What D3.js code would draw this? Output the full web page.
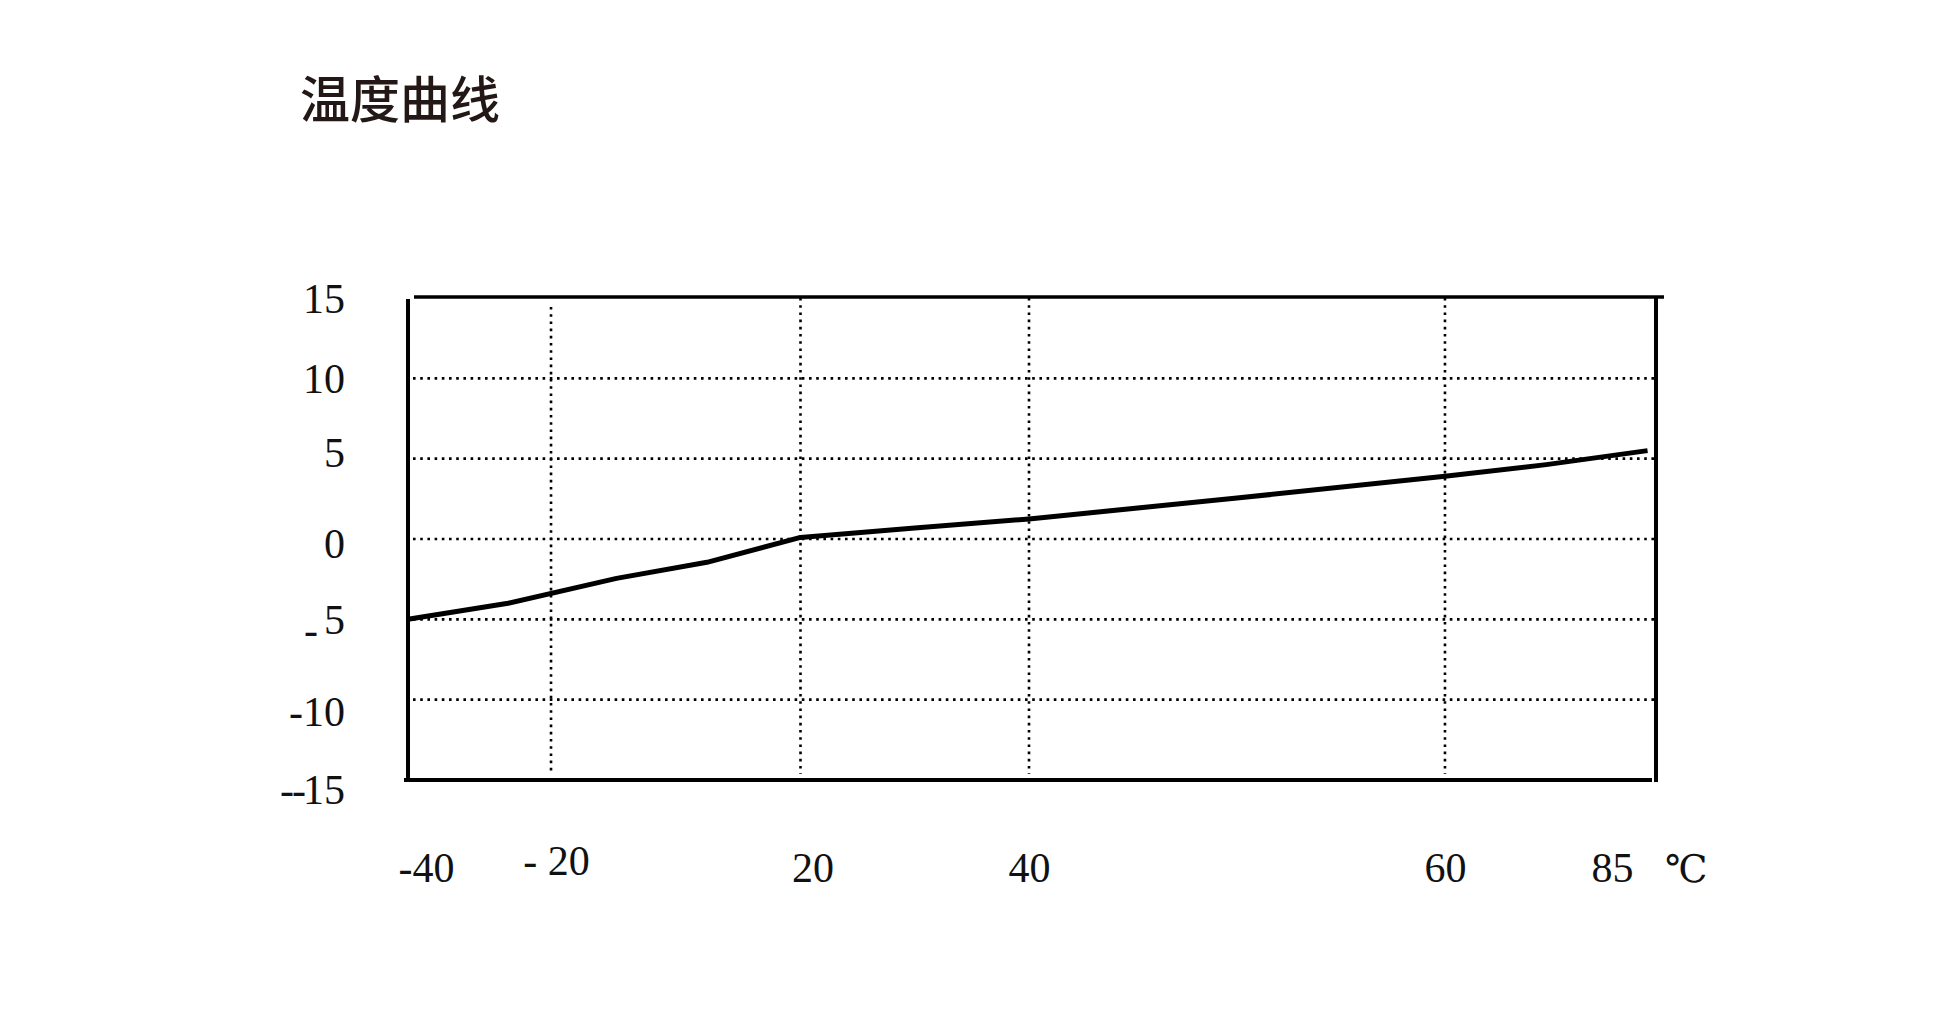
<!DOCTYPE html>
<html>
<head>
<meta charset="utf-8">
<script src="https://cdn.jsdelivr.net/npm/d3@7"></script>
<style>
  html, body { margin: 0; padding: 0; background: #ffffff; }
  svg { display: block; }
  .tick-label { font-family: "Liberation Serif", "Times New Roman", serif; font-size: 42px; fill: #111; }
</style>
</head>
<body>
<svg id="chart" width="1937" height="1009"></svg>
<script>
// ---- data ----
const chartTitle = "温度曲线";
const xTicks = [-40, -20, 20, 40, 60, 85];
const xTickLabels = ["-40", "- 20", "20", "40", "60", "85"];
const xUnit = "℃";
const yTicks = [15, 10, 5, 0, -5, -10, -15];
const yTickLabels = ["15", "10", "5", "0", "-5", "-10", "--15"];
const curveTemp  = [-40, -26, -9.5, 5, 20, 30, 40, 50, 60, 72, 84];
const curveValue = [-5, -4.0, -2.45, -1.45, 0.1, 0.68, 1.25, 2.55, 3.9, 4.63, 5.5];

// ---- layout ----
const W = 1937, H = 1009;
const plot = { left: 408, right: 1656, top: 298, bottom: 780 };
const pw = plot.right - plot.left;
// the original axis is hand-spaced (not proportional); fractions of the plot width
const xFrac = [0, 0.1146, 0.3145, 0.4976, 0.8309, 1];
const xLabelShift = [18, 5, 12, 0, 0, -44];
const xLabelLift = [0, -7, 0, 0, 0, 0];
const yLabelShift = [0, 0, -6, 4, 0, 12, 9];

const svg = d3.select("#chart");
svg.append("rect").attr("width", W).attr("height", H).attr("fill", "#fff");

const x = d3.scaleLinear().domain(xTicks).range(xFrac.map(f => plot.left + f * pw));
const y = d3.scaleLinear().domain([-15, 15]).range([plot.bottom, plot.top]);

// title
svg.append("text")
  .attr("x", 300).attr("y", 118)
  .attr("font-family", "'Noto Sans CJK SC', 'Noto Sans', sans-serif")
  .attr("font-size", 50)
  .attr("font-weight", 500)
  .attr("fill", "#231815")
  .text(chartTitle);

// dotted grid
const grid = svg.append("g")
  .attr("stroke", "#000").attr("stroke-width", 2.6)
  .attr("stroke-dasharray", "2.6 4.6").attr("fill", "none");
grid.selectAll("line.h").data(yTicks.filter(v => v > -15 && v < 15)).join("line")
  .attr("class", "h")
  .attr("x1", plot.left + 5).attr("x2", plot.right - 1)
  .attr("y1", d => y(d)).attr("y2", d => y(d));
grid.selectAll("line.v").data(xTicks.filter(v => v > -40 && v < 85)).join("line")
  .attr("class", "v")
  .attr("x1", d => x(d)).attr("x2", d => x(d))
  .attr("y1", d => d === -20 ? plot.top + 9 : plot.top)
  .attr("y2", plot.bottom - 6);

// frame (as in the original, sides slightly overshoot)
const frame = svg.append("g").attr("stroke", "#000").attr("stroke-linecap", "butt");
frame.append("line").attr("x1", plot.left + 6).attr("x2", plot.right + 8)
  .attr("y1", plot.top - 1).attr("y2", plot.top - 1).attr("stroke-width", 3.5);
frame.append("line").attr("x1", plot.left).attr("x2", plot.left)
  .attr("y1", plot.top + 1).attr("y2", plot.bottom + 2).attr("stroke-width", 4);
frame.append("line").attr("x1", plot.right).attr("x2", plot.right)
  .attr("y1", plot.top - 1).attr("y2", plot.bottom + 2).attr("stroke-width", 4);
frame.append("line").attr("x1", plot.left - 4).attr("x2", plot.right - 4)
  .attr("y1", plot.bottom).attr("y2", plot.bottom).attr("stroke-width", 4);

// y axis labels
const yAxis = svg.append("g")
  .attr("transform", `translate(${plot.left},0)`)
  .call(d3.axisLeft(y).tickValues(yTicks).tickSize(0).tickPadding(63)
    .tickFormat((d, i) => yTickLabels[i]));
yAxis.select(".domain").remove();
yAxis.selectAll("text")
  .attr("class", "tick-label")
  .attr("font-family", null).attr("font-size", null)
  .attr("fill", null)
  .attr("dy", (d, i) => 14 + yLabelShift[i])
  .each(function (d, i) {
    const lab = yTickLabels[i];
    const t = d3.select(this);
    const base = 14 + yLabelShift[i];
    if (lab === "-5") {
      t.text(null).attr("dy", null);
      t.append("tspan").attr("dy", base + 10).text("-");
      t.append("tspan").attr("dx", 6).attr("dy", -10).text("5");
    } else if (lab === "--15") {
      t.text(null).attr("dy", null);
      t.append("tspan").attr("dy", base).text("-");
      t.append("tspan").attr("dx", -2).text("-");
      t.append("tspan").attr("dx", -3).text("15");
    }
  });

// x axis labels
const xAxis = svg.append("g")
  .attr("transform", `translate(0,${plot.bottom})`)
  .call(d3.axisBottom(x).tickValues(xTicks).tickSize(0).tickPadding(72)
    .tickFormat((d, i) => xTickLabels[i]));
xAxis.select(".domain").remove();
xAxis.selectAll("text")
  .attr("class", "tick-label")
  .attr("font-family", null).attr("font-size", null)
  .attr("fill", null)
  .attr("dx", (d, i) => xLabelShift[i])
  .attr("y", (d, i) => 72 + xLabelLift[i]);

// unit
svg.append("text")
  .attr("x", x(85) + 9).attr("y", plot.bottom + 102)
  .attr("font-family", "'DejaVu Serif', 'Liberation Serif', 'Noto Sans CJK SC', serif")
  .attr("font-size", 38)
  .attr("fill", "#111")
  .text(xUnit);

// curve
const pts = curveTemp.map((t, i) => ({ t, v: curveValue[i] }));
svg.append("path")
  .datum(pts)
  .attr("fill", "none")
  .attr("stroke", "#000")
  .attr("stroke-width", 5)
  .attr("stroke-linejoin", "round")
  .attr("d", d3.line().x(d => x(d.t)).y(d => y(d.v)).curve(d3.curveLinear));
</script>
</body>
</html>
